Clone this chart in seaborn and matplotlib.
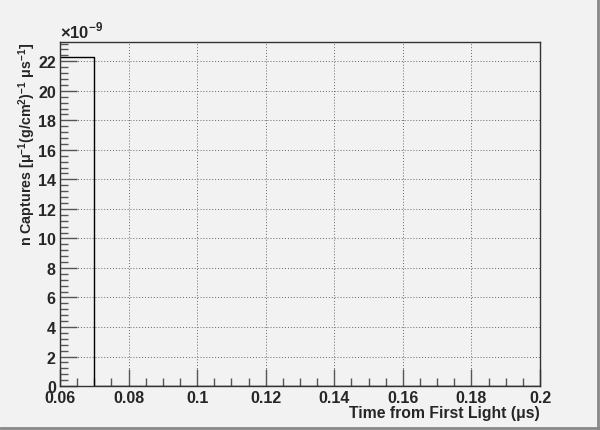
import numpy as np
import matplotlib
matplotlib.use("Agg")
import matplotlib.pyplot as plt
from matplotlib.ticker import MultipleLocator
import seaborn as sns

# histogram bins (time from first light, us) and contents (units of 1e-9)
bin_edges = [0.06, 0.07, 0.08, 0.09, 0.10, 0.11, 0.12, 0.13, 0.14, 0.15, 0.16, 0.17, 0.18, 0.19, 0.20]
bin_values = [22.3, 0, 0, 0, 0, 0, 0, 0, 0, 0, 0, 0, 0, 0]

sns.set_style("white")
plt.rcParams['font.family'] = ['Liberation Sans', 'DejaVu Sans']
plt.rcParams['mathtext.fontset'] = 'custom'
plt.rcParams['mathtext.bf'] = 'Liberation Sans:bold'
plt.rcParams['mathtext.rm'] = 'Liberation Sans:bold'

bg = "#f2f2f2"
fig = plt.figure(figsize=(6, 4.31), dpi=100, facecolor=bg)
ax = fig.add_axes([0.1, 0.102, 0.8, 0.798])
ax.set_facecolor(bg)

centers = [(a + b) / 2 for a, b in zip(bin_edges[:-1], bin_edges[1:])]
sns.histplot(x=centers, weights=bin_values, bins=bin_edges, element="step",
             fill=False, color="black", linewidth=1.0, ax=ax)

ax.set_xlim(0.06, 0.2)
ax.set_ylim(0, 23.3)
ax.xaxis.set_major_locator(MultipleLocator(0.02))
ax.xaxis.set_minor_locator(MultipleLocator(0.005))
ax.yaxis.set_major_locator(MultipleLocator(2))
ax.yaxis.set_minor_locator(MultipleLocator(0.4))
ax.xaxis.set_major_formatter(plt.FuncFormatter(lambda v, p: f"{v:g}"))
ax.grid(True, which="major", linestyle=(0, (1, 2)), color="#666666", linewidth=0.7)

ax.tick_params(which="both", direction="in", bottom=True, left=True, top=False, right=False,
               labelsize=11.5, color="#555555")
ax.tick_params(which="major", length=12, width=1)
ax.tick_params(which="minor", length=6, width=1)
for lab in ax.get_xticklabels() + ax.get_yticklabels():
    lab.set_fontweight("bold")
ax.tick_params(axis="x", pad=3)
ax.tick_params(axis="y", pad=3)

for s in ax.spines.values():
    s.set_color("#333333")
    s.set_linewidth(1.0)

ax.set_xlabel("Time from First Light (μs)", fontsize=11.3, fontweight="bold", loc="right", labelpad=0)
ax.set_ylabel(r"n Captures [μ$^{-1}$(g/cm$^{2}$)$^{-1}$ μs$^{-1}$]", fontsize=10.3,
              fontweight="bold", loc="top", labelpad=0)
ax.text(0.0, 1.005, r"×10$^{-9}$", transform=ax.transAxes, fontsize=12,
        fontweight="bold", ha="left", va="bottom")

# ROOT-style canvas bevel
fig.add_artist(plt.Line2D([0.997, 0.997], [0.0, 1.0], transform=fig.transFigure, color="#888888", lw=2))
fig.add_artist(plt.Line2D([0.0, 1.0], [0.004, 0.004], transform=fig.transFigure, color="#888888", lw=2))

fig.savefig("out.png", dpi=100, facecolor=bg)
